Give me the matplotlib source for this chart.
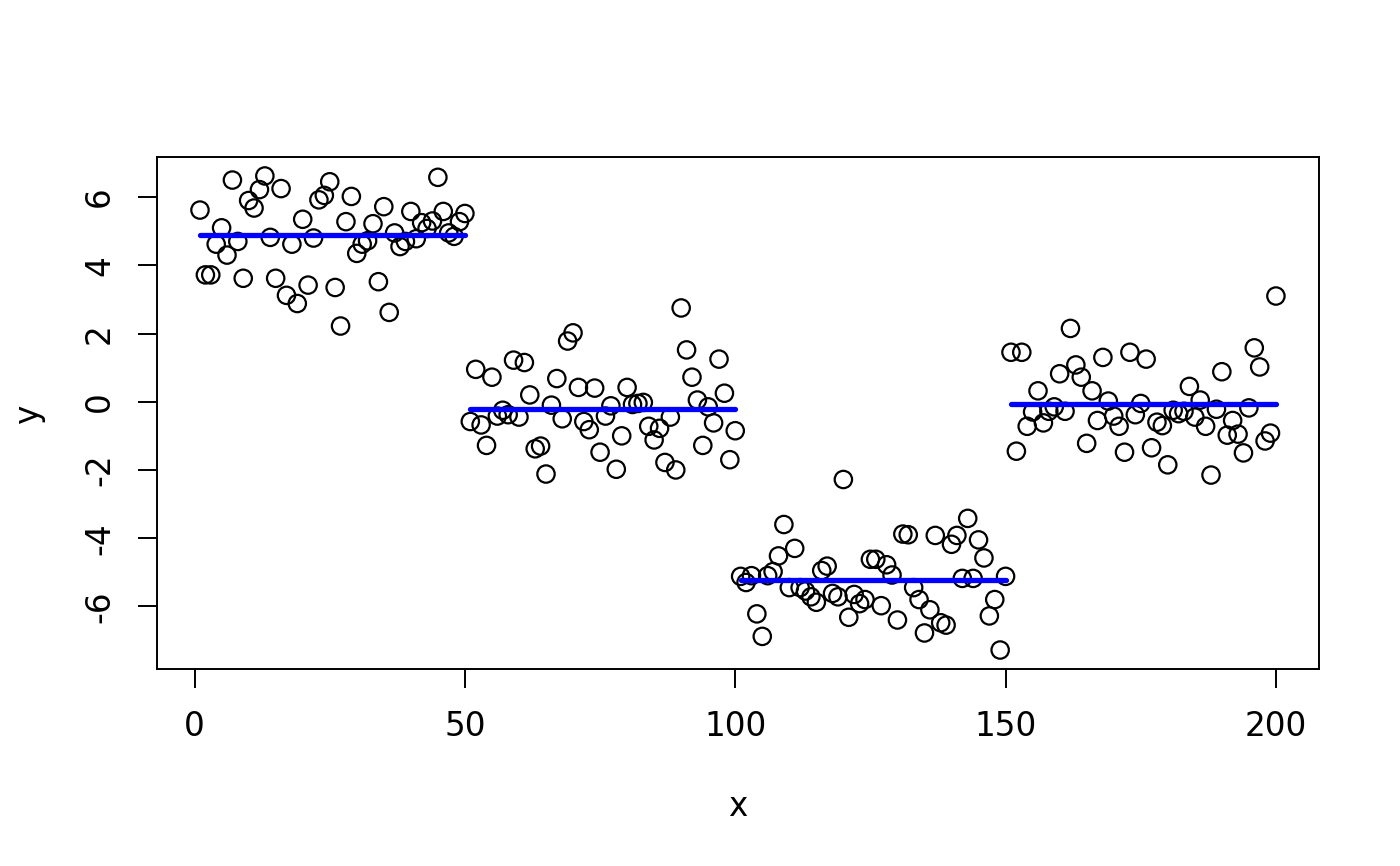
import numpy as np
import matplotlib.pyplot as plt

# y values, one block of 50 per segment
seg1 = [5.62, 3.72, 3.72, 4.62, 5.10, 4.30, 6.50, 4.70, 3.62, 5.90,
        5.68, 6.22, 6.62, 4.82, 3.62, 6.25, 3.12, 4.62, 2.88, 5.35,
        3.42, 4.80, 5.92, 6.05, 6.45, 3.35, 2.22, 5.28, 6.02, 4.35,
        4.62, 4.72, 5.22, 3.52, 5.72, 2.62, 4.95, 4.55, 4.70, 5.58,
        4.78, 5.25, 5.08, 5.30, 6.58, 5.58, 4.95, 4.85, 5.28, 5.52]
seg2 = [-0.58, 0.95, -0.68, -1.28, 0.72, -0.42, -0.25, -0.38, 1.22, -0.45,
        1.15, 0.20, -1.38, -1.30, -2.12, -0.10, 0.68, -0.50, 1.78, 2.02,
        0.42, -0.58, -0.82, 0.40, -1.48, -0.42, -0.12, -1.98, -1.00, 0.42,
        -0.08, -0.05, -0.02, -0.72, -1.12, -0.78, -1.78, -0.45, -2.00, 2.75,
        1.52, 0.72, 0.05, -1.28, -0.15, -0.62, 1.25, 0.25, -1.70, -0.85]
seg3 = [-5.12, -5.30, -5.10, -6.22, -6.88, -5.10, -4.98, -4.52, -3.60, -5.45,
        -4.30, -5.45, -5.55, -5.72, -5.88, -4.95, -4.82, -5.62, -5.72, -2.28,
        -6.32, -5.65, -5.92, -5.80, -4.62, -4.62, -5.98, -4.78, -5.08, -6.40,
        -3.88, -3.90, -5.45, -5.80, -6.78, -6.10, -3.92, -6.48, -6.55, -4.18,
        -3.92, -5.18, -3.42, -5.18, -4.05, -4.58, -6.28, -5.80, -7.28, -5.12]
seg4 = [1.45, -1.45, 1.45, -0.72, -0.30, 0.32, -0.62, -0.28, -0.15, 0.82,
        -0.28, 2.15, 1.08, 0.72, -1.22, 0.32, -0.55, 1.30, 0.02, -0.42,
        -0.72, -1.48, 1.45, -0.38, -0.05, 1.25, -1.35, -0.60, -0.70, -1.85,
        -0.25, -0.35, -0.28, 0.45, -0.45, 0.05, -0.72, -2.15, -0.22, 0.88,
        -0.98, -0.55, -0.95, -1.50, -0.18, 1.58, 1.02, -1.15, -0.92, 3.10]

# fitted level of each segment (blue lines)
levels = [4.88, -0.22, -5.22, -0.08]

segments = [seg1, seg2, seg3, seg4]
y = np.concatenate(segments)
x = np.arange(1, len(y) + 1)

plt.rcParams['font.family'] = 'DejaVu Sans'
plt.rcParams['axes.unicode_minus'] = False

fig = plt.figure(figsize=(14, 8.66), dpi=100)
ax = fig.add_axes([0.1121, 0.2275, 0.83, 0.5912])

ax.scatter(x, y, s=12.5**2, facecolors='none', edgecolors='black', linewidths=1.6, zorder=2)

start = 1
for seg, lev in zip(segments, levels):
    xs = np.arange(start, start + len(seg))
    ax.plot([xs[0], xs[-1]], [lev, lev], color='blue', lw=3.8, solid_capstyle='round', zorder=3)
    start += len(seg)

# R style 4% padding
xr = x.max() - x.min()
yr = y.max() - y.min()
ax.set_xlim(x.min() - 0.04 * xr, x.max() + 0.04 * xr)
ax.set_ylim(y.min() - 0.04 * yr, y.max() + 0.04 * yr)

ax.set_xticks([0, 50, 100, 150, 200])
ax.set_yticks([-6, -4, -2, 0, 2, 4, 6])
ax.tick_params(axis='both', length=13.5, width=1.4, labelsize=23.5, pad=16)
for lab in ax.get_yticklabels():
    lab.set_rotation(90)
    lab.set_va('center')

for sp in ax.spines.values():
    sp.set_linewidth(1.4)

ax.set_xlabel('x', fontsize=23.5, labelpad=34)
ax.set_ylabel('y', fontsize=23.5, labelpad=27)

plt.savefig('out.png', dpi=100)
